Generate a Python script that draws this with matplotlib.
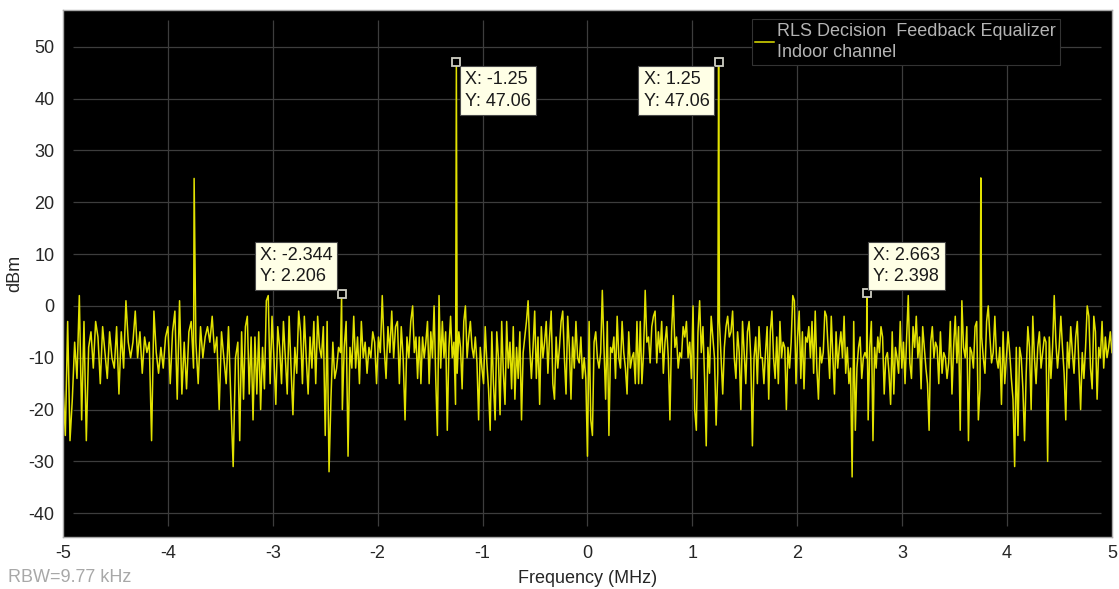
import numpy as np
import matplotlib
matplotlib.use("Agg")
import matplotlib.pyplot as plt

plt.rcParams['font.family'] = ['Liberation Sans', 'DejaVu Sans']
plt.rcParams['axes.unicode_minus'] = False

# spectrum levels (dBm), read in six equal frequency bands from -5 to 5 MHz
band1 = [-15, -25, -3, -26, -18, -7, -14, 2, -22, -3, -26, -8, -5, -12, -3, -6, -15, -4, -9,
         -14, -5, -10, -12, -4, -17, -5, -12, 1, -7, -10, -7, -1, -10, -5, -13, -6, -9, -7,
         -26, -1, -9, -13, -8, -12, -6, -4, -15, -5, -1, -18, 1, -17, -7, -16, -5, -3, -12,
         -7, -15, -4, -10, -6, -4, -7, -2, -9, -6, -20, -5, -10, -15, -4, -18, -31, -10]
band2 = [-7, -26, -5, -18, -4, -2, -17, -6, -22, -6, -17, -5, -20, -8, -16, 1, 2, -15, -2,
         -10, -19, -4, -8, -15, -3, -10, -17, -2, -12, -21, -8, -13, -1, -5, -15, -2, -10,
         -17, -6, -12, -3, -15, -2, -8, -10, -4, -25, -3, -32, -18, -7, -14, -12, -8, -9,
         -20, -8, -3, -29, -8, -12, -2, -12, -6, -15, -3, -10, -7, -13, -8, -10, -5, -7,
         -15, -6, -9, 2, -8, -14, -4, -9, -1, -10, -4, -3, -15, -4, -10, -22, -6, -10, -3]
band3 = [0, -9, -6, -14, -6, -15, -6, -10, -7, -3, -15, -5, -10, 0, -14, -25, 2, -12, -3,
         -10, -5, -24, -8, -2, -10, -7, -19, -13, -5, -8, -16, -3, 0, -10, -6, -3, -8, -10,
         -6, -11, -22, -8, -12, -15, -4, -11, -16, -24, -5, -15, -22, -5, -10, -21, -3, -13,
         -19, -3, -12, -7, -16, -4, -18, -8, -14, -5, -22, -9, -6, -3, 1, -8, -14, -8, -1,
         -14, -6, -19, -4, -10, -7, -3, -13, -6, -1, -15, -18, -6, -12, -8, -3, -1, -10,
         -17, -2, -8, -18, -6, -12, -3, -10, -11, -6, -14, -10, -14]
band4 = [-29, -3, -22, -25, -7, -5, -10, -12, -9, 3, -8, -18, -3, -25, -8, -9, -6, -14, -2,
         -10, -12, -3, -9, -12, -17, -5, -12, -10, -9, -15, -3, -15, -3, -15, -9, 3, -7, -6,
         -11, -4, -2, -1, -11, -5, -9, -3, -13, -7, -4, -10, -22, -5, 2, -8, -6, -12, -9,
         -10, -4, -6, -3, -10, -7, -14, 0, -20, -24, -5, 1, -9, -4, -14, -27, -8, -13, -2,
         -6, -10, -23, -13, -3, -10, -17, -8, -4, -2, -6, -5, -1, -10, -14, -5, -9, -20, -3,
         -9, -15, -5, -3, -10, -27, -10, -6, -15, -4, -10]
band5 = [-10, -15, -9, -4, -18, -5, -1, -10, -14, -6, -15, -3, -10, -7, -8, -20, -8, -12, -7,
         2, 1, -15, -6, -1, -14, -5, -16, -6, -7, -4, -10, -3, -13, -1, -12, -18, -8, -11,
         -9, -1, -2, -8, -14, -2, -10, -17, -5, -12, -8, -5, -10, -2, -13, -8, -15, -12,
         -33, -3, -24, -12, -8, -6, -14, -10, -9, -10, -22, -8, -3, -26, -8, -12, -6, -9,
         -4, -6, -17, -10, -9, -13, -19, -5, -17, -8, -10, -13, -3, -12, -7, -15, -6, 2,
         -11, -14, -4, -8, -2, -10, -6, -16, -4, -8, -12, -15, -24, -7, -4, -10, -7]
band6 = [-8, -15, -5, -13, -9, -10, -14, -11, -3, -17, -8, -2, -11, -4, -24, 1, -8, -10, -4,
         -26, -8, -9, -12, -4, -3, -22, -16, -6, -10, -13, -3, 0, -6, -11, -9, -2, -10, -12,
         -8, -19, -5, -15, -10, -5, -9, -14, -18, -31, -8, -25, -8, -10, -16, -26, -13, -4,
         -8, -20, -2, -10, -15, -8, -5, -12, -9, -6, -7, -30, -6, -14, -8, 2, -7, -12, -8,
         -2, -8, -13, -22, -7, -12, -4, -9, -13, -6, -3, -12, -20, -9, -14, -8, 0, -2, -12,
         -16, -2, -5, -18, -8, -10, -3, -12, -6, -10, -8, -5, -9]

# narrow tones riding on the noise floor
spur_freq = [-3.75, 3.75]
spur_level = [24.6, 24.7]

# data tips
tip_x = [-2.344, -1.25, 1.25, 2.663]
tip_y = [2.206, 47.06, 47.06, 2.398]
tip_off = [(-6.6, 6.6, 'right', 'bottom'), (6.3, -6.6, 'left', 'top'),
           (-6.6, -6.6, 'right', 'top'), (4.7, 6.0, 'left', 'bottom')]

bands = [band1, band2, band3, band4, band5, band6]
edges = np.linspace(-5, 5, len(bands) + 1)
freq, level = [], []
for i, b in enumerate(bands):
    last = i == len(bands) - 1
    freq.append(np.linspace(edges[i], edges[i + 1], len(b), endpoint=last))
    level.append(np.asarray(b, dtype=float))
freq = np.concatenate(freq + [np.array(spur_freq), np.array(tip_x)])
level = np.concatenate(level + [np.array(spur_level), np.array(tip_y)])
order = np.argsort(freq, kind='stable')
freq, level = freq[order], level[order]

fig = plt.figure(figsize=(11.19, 5.89), dpi=100)
ax = fig.add_axes([0.0563, 0.0891, 0.9374, 0.8939])
ax.set_facecolor('black')

ylo, yhi = -44.5, 57.1
ax.set_xlim(-5, 5)
ax.set_ylim(ylo, yhi)
xt = np.arange(-5, 6, 1)
yt = np.arange(-40, 60, 10)
ax.set_xticks(xt)
ax.set_yticks(yt)

# grid drawn slightly inset from the frame
ax.hlines(yt, 0.0095, 0.9895, transform=ax.get_yaxis_transform(),
          colors='#3d3d3d', lw=0.9, zorder=0.5)
ax.vlines(xt[1:-1], 0.02, 0.981, transform=ax.get_xaxis_transform(),
          colors='#3d3d3d', lw=0.9, zorder=0.5)

ax.plot(freq, level, color='#e2e200', lw=1.1, zorder=2,
        label='RLS Decision  Feedback Equalizer\nIndoor channel')

for x, y, (dx, dy, ha, va) in zip(tip_x, tip_y, tip_off):
    ax.plot(x, y, 's', ms=5.5, mfc='black', mec='#cfcfc4', mew=1.3, zorder=4)
    ax.annotate(f'X: {x:g}\nY: {y:g}', xy=(x, y), xytext=(dx, dy),
                textcoords='offset points', ha=ha, va=va, ma='left', fontsize=13,
                color='#1a1a1a', linespacing=1.35, zorder=5,
                bbox=dict(boxstyle='square,pad=0.28', fc='#ffffe6', ec='#4a4a4a', lw=0.8))

for s in ax.spines.values():
    s.set_color('#a8a8a8')
    s.set_linewidth(1.0)
ax.tick_params(length=0, labelsize=13, colors='#262626', pad=6)
ax.set_xlabel('Frequency (MHz)', fontsize=13, color='#262626', labelpad=6)
ax.set_ylabel('dBm', fontsize=13, color='#262626', labelpad=4)

leg = ax.legend(loc='upper right', bbox_to_anchor=(0.950, 0.983), borderaxespad=0,
                fontsize=13, facecolor='black', edgecolor='#333333', framealpha=1,
                fancybox=False, labelcolor='#b4b4b4', handlelength=1.05,
                handletextpad=0.15, borderpad=0.2)
leg.get_frame().set_linewidth(0.8)
leg.get_texts()[0].set_linespacing(1.35)

fig.text(8 / 1119, 1 - 577 / 589, 'RBW=9.77 kHz', fontsize=13, color='#a8a8a8',
         ha='left', va='center')

fig.savefig('out.png', dpi=100, facecolor='white')
